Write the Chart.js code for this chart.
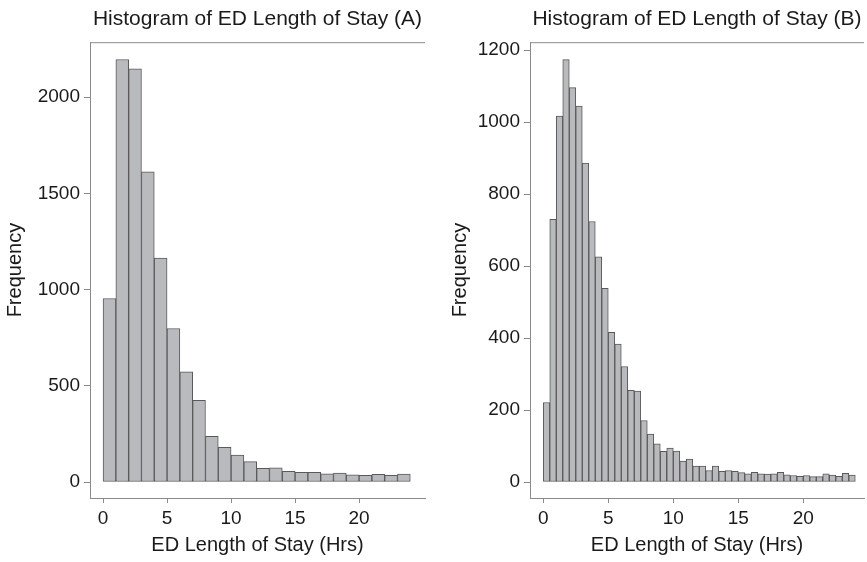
<!DOCTYPE html>
<html>
<head>
<meta charset="utf-8">
<title>Histogram of ED Length of Stay</title>
<script src="https://cdn.jsdelivr.net/npm/chart.js@4.4.1/dist/chart.umd.min.js"></script>
<style>
    html, body { margin: 0; padding: 0; background: #fff; }
    #wrap { position: relative; width: 867px; height: 562px; }
    #chart-a { position: absolute; left: 0; top: 0; }
    #chart-b { position: absolute; left: 433px; top: 0; }
</style>
</head>
<body>
<div id="wrap">
    <canvas id="chart-a" width="433" height="562"></canvas>
    <canvas id="chart-b" width="434" height="562"></canvas>
</div>
<script>
// Bin start (hours) and counts, panel A: 1 hour bins
const binsA = [0, 1, 2, 3, 4, 5, 6, 7, 8, 9, 10, 11, 12, 13, 14, 15, 16, 17, 18, 19, 20, 21, 22, 23];
const countsA = [954, 2196, 2147, 1612, 1164, 798, 573, 424, 237, 180, 140, 106,
                 71, 74, 55, 50, 50, 43, 47, 38, 35, 40, 35, 41];

// Panel B: half hour bins
const binsB = [0, 0.5, 1, 1.5, 2, 2.5, 3, 3.5, 4, 4.5, 5, 5.5, 6, 6.5, 7, 7.5,
               8, 8.5, 9, 9.5, 10, 10.5, 11, 11.5, 12, 12.5, 13, 13.5, 14, 14.5, 15, 15.5,
               16, 16.5, 17, 17.5, 18, 18.5, 19, 19.5, 20, 20.5, 21, 21.5, 22, 22.5, 23, 23.5];
const countsB = [221, 730, 1017, 1174, 1096, 1045, 886, 724, 626, 538, 416, 383, 321, 255, 253, 171,
                 133, 106, 85, 94, 86, 58, 64, 44, 44, 32, 44, 30, 32, 30, 26, 23,
                 27, 23, 22, 23, 27, 20, 18, 16, 18, 15, 15, 23, 19, 16, 24, 19];

// Tick labels
const xTicks = [0, 5, 10, 15, 20];
const yTicksA = [0, 500, 1000, 1500, 2000];
const yTicksB = [0, 200, 400, 600, 800, 1000, 1200];

const FONT = "'Liberation Sans', Arial, Helvetica, sans-serif";
const TEXT = '#1a1a1a';
const AXIS = '#8a8a8a';

// draws the line across the top of the plot box
const topBorder = {
    id: 'topBorder',
    afterDraw(chart) {
        const { ctx, chartArea } = chart;
        ctx.save();
        ctx.strokeStyle = AXIS;
        ctx.lineWidth = 1;
        ctx.beginPath();
        ctx.moveTo(chartArea.left, chartArea.top + 0.5);
        ctx.lineTo(chartArea.right, chartArea.top + 0.5);
        ctx.stroke();
        ctx.restore();
    }
};

function makeHistogram(canvasId, opts) {
    const width = opts.binWidth;
    const points = opts.bins.map((b, i) => ({ x: b + width / 2, y: opts.counts[i] }));

    return new Chart(document.getElementById(canvasId), {
        type: 'bar',
        data: {
            datasets: [{
                data: points,
                backgroundColor: '#b9babe',
                borderColor: '#595959',
                borderWidth: 1,
                borderSkipped: false,
                barPercentage: 1,
                categoryPercentage: 1
            }]
        },
        options: {
            responsive: false,
            animation: false,
            devicePixelRatio: 1,
            layout: { padding: { top: 0, right: opts.padRight, bottom: 0, left: 0 } },
            plugins: {
                legend: { display: false },
                tooltip: { enabled: false },
                title: {
                    display: true,
                    text: opts.title,
                    fullSize: false,
                    color: TEXT,
                    font: { family: FONT, size: 21, weight: 'normal' },
                    padding: { top: 7, bottom: 10 }
                }
            },
            scales: {
                x: {
                    type: 'linear',
                    offset: false,
                    min: opts.xMin,
                    max: opts.xMax,
                    afterBuildTicks: scale => { scale.ticks = xTicks.map(v => ({ value: v })); },
                    afterFit: scale => { scale.height = 64; },
                    grid: { display: true, drawOnChartArea: false, offset: false, color: AXIS, tickLength: 5 },
                    border: { display: true, color: AXIS, width: 1 },
                    ticks: {
                        color: TEXT,
                        font: { family: FONT, size: 19 },
                        padding: 4,
                        maxRotation: 0,
                        callback: v => String(v)
                    },
                    title: {
                        display: true,
                        text: 'ED Length of Stay (Hrs)',
                        color: TEXT,
                        font: { family: FONT, size: 20 },
                        padding: { top: 0, bottom: 5 }
                    }
                },
                y: {
                    min: opts.yMin,
                    max: opts.yMax,
                    afterBuildTicks: scale => { scale.ticks = opts.yTicks.map(v => ({ value: v })); },
                    afterFit: scale => { scale.width = opts.yWidth; },
                    grid: { display: true, drawOnChartArea: false, color: AXIS, tickLength: 6 },
                    border: { display: true, color: AXIS, width: 1 },
                    ticks: {
                        color: TEXT,
                        font: { family: FONT, size: 19 },
                        padding: 4,
                        callback: v => String(v)
                    },
                    title: {
                        display: true,
                        text: 'Frequency',
                        color: TEXT,
                        font: { family: FONT, size: 20 },
                        padding: { top: opts.yTitlePad, bottom: 0 }
                    }
                }
            }
        },
        plugins: [topBorder]
    });
}

makeHistogram('chart-a', {
    title: 'Histogram of ED Length of Stay (A)',
    bins: binsA, counts: countsA, binWidth: 1,
    xMin: -1.02, xMax: 25.15,
    yMin: -83, yMax: 2286, yTicks: yTicksA,
    yWidth: 90, yTitlePad: 3, padRight: 8
});

makeHistogram('chart-b', {
    title: 'Histogram of ED Length of Stay (B)',
    bins: binsB, counts: countsB, binWidth: 0.5,
    xMin: -1.02, xMax: 24.67,
    yMin: -44.4, yMax: 1222.2, yTicks: yTicksB,
    yWidth: 97, yTitlePad: 15, padRight: 3
});
</script>
</body>
</html>
